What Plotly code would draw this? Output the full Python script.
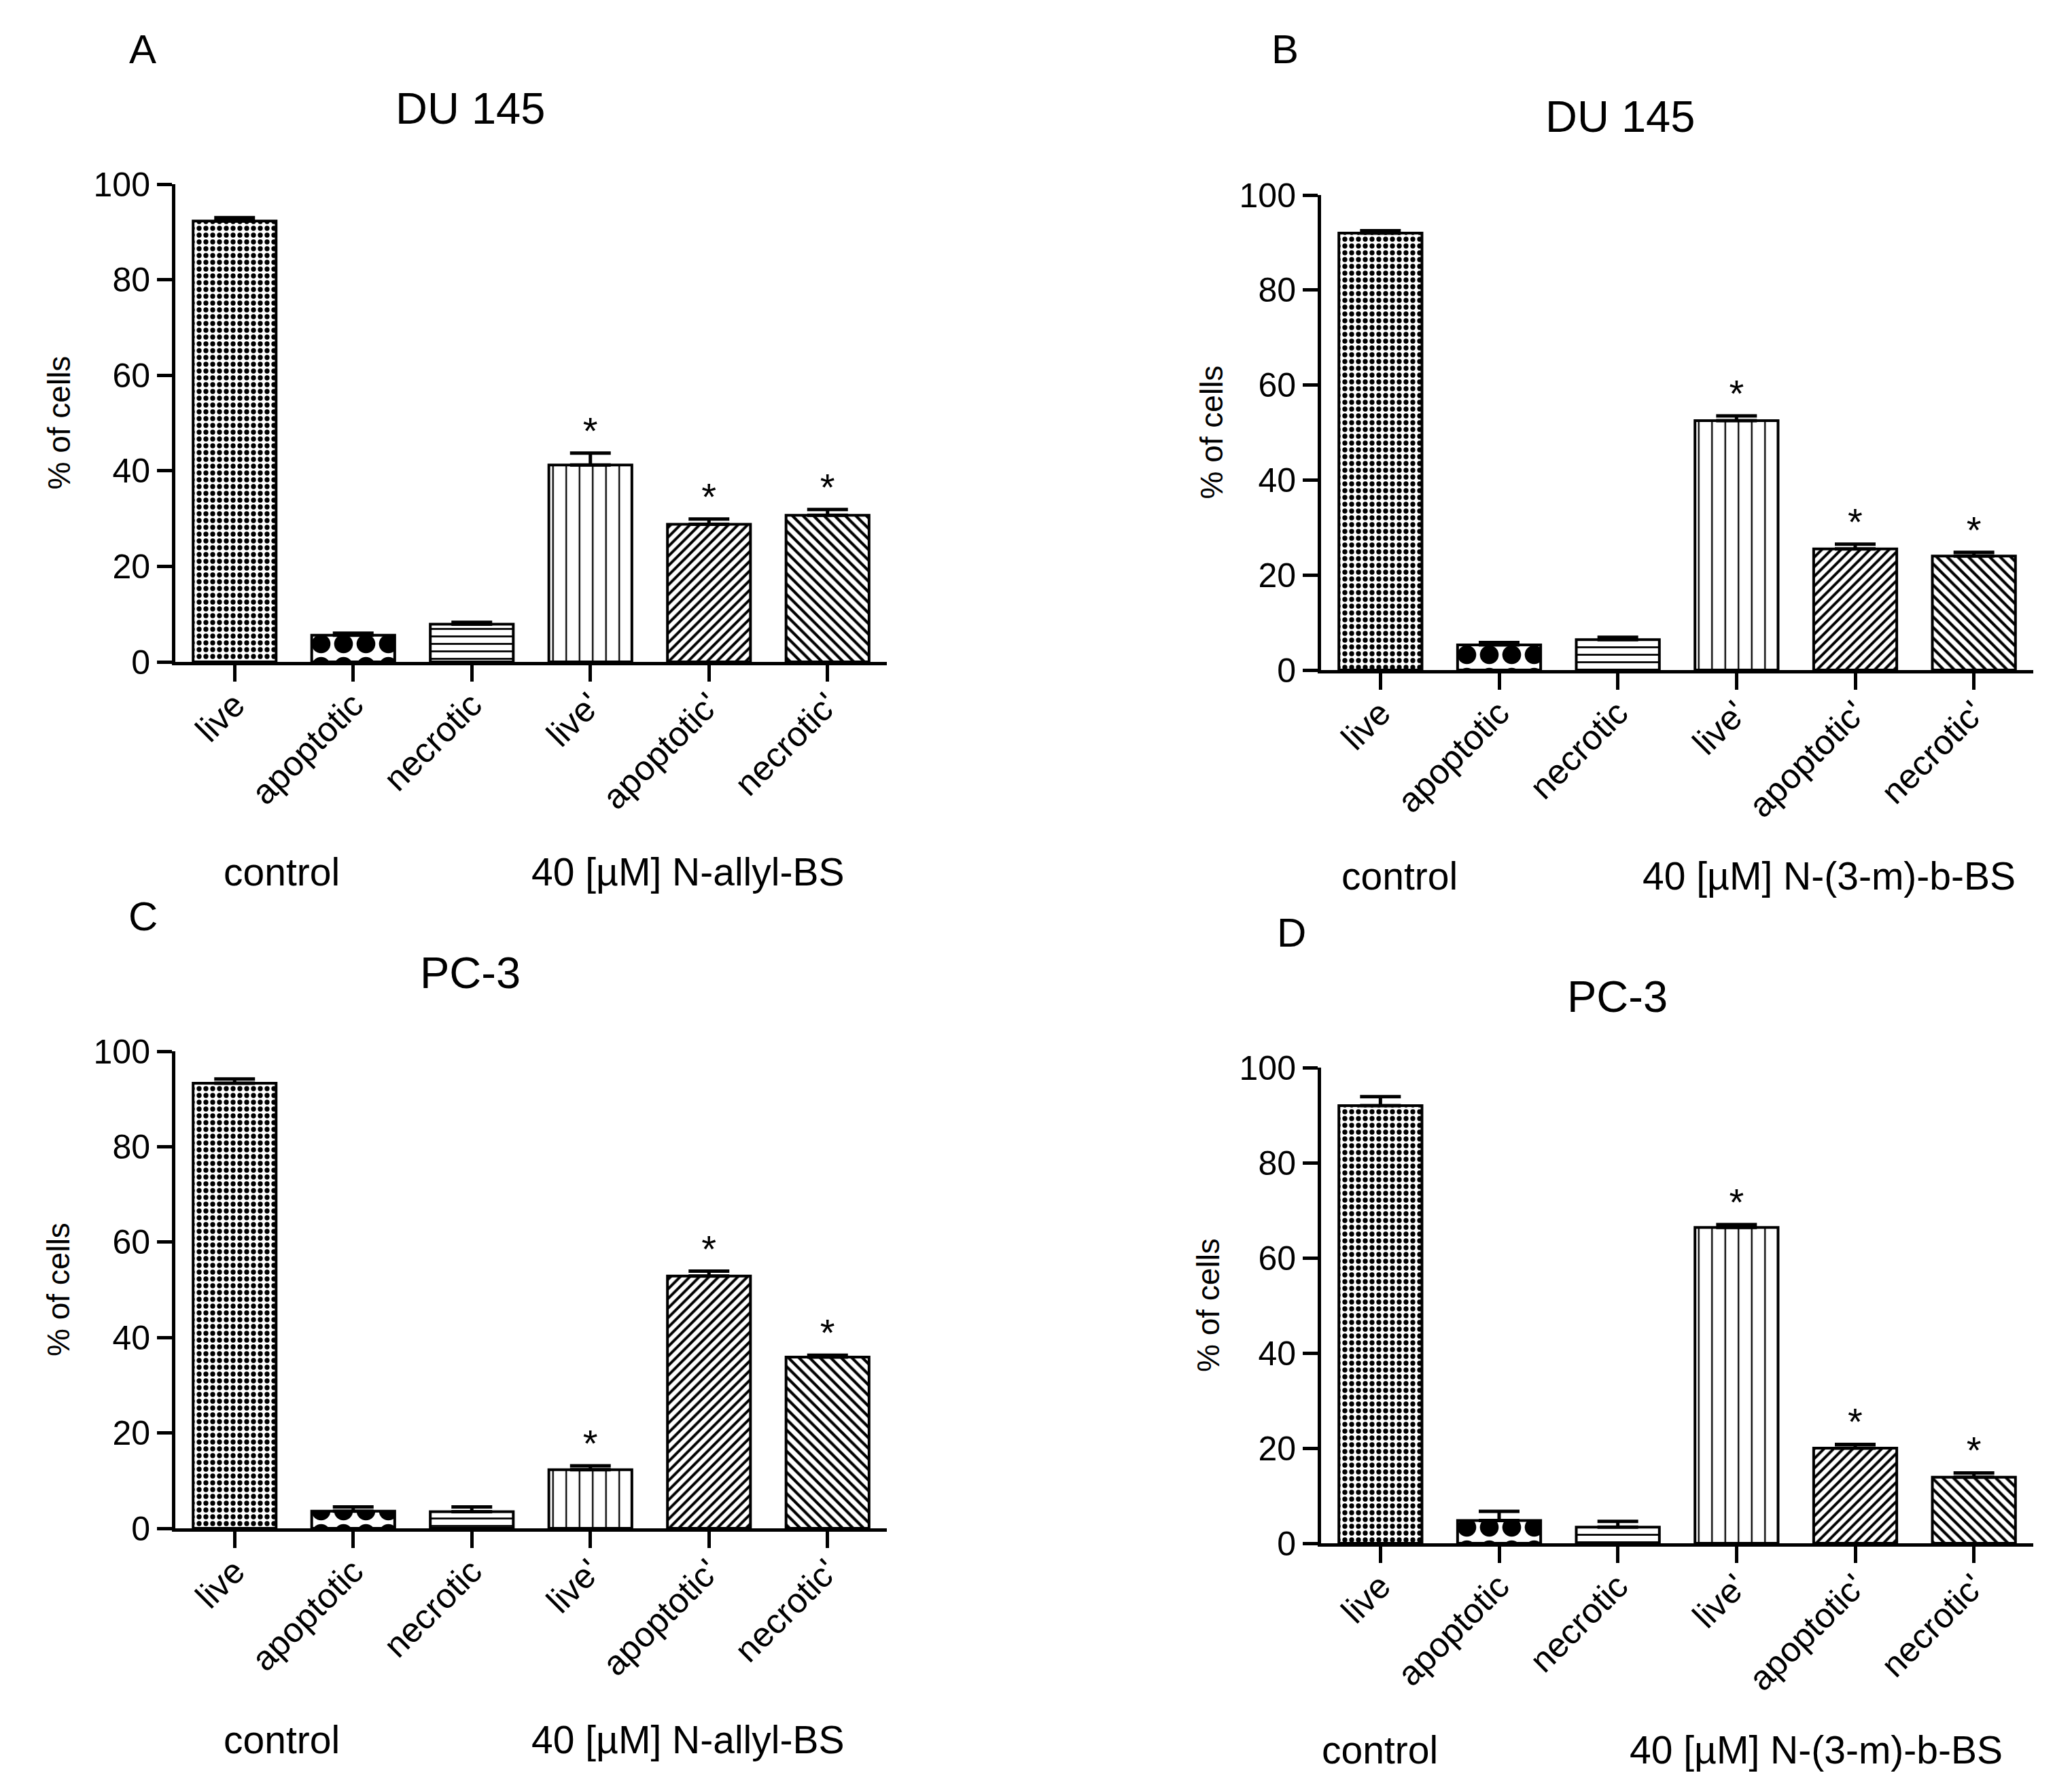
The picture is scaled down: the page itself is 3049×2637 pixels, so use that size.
import plotly.graph_objects as go

# categories shared by all four panels
categories = ["live", "apoptotic", "necrotic", "live'", "apoptotic'", "necrotic'"]
significant = [False, False, False, True, True, True]

# % of cells (mean) and upper error
a_vals = [92.3, 5.6, 7.9, 41.2, 28.8, 30.7]
a_err = [0.7, 0.4, 0.4, 2.5, 1.1, 1.2]
b_vals = [92.0, 5.3, 6.4, 52.5, 25.5, 24.0]
b_err = [0.5, 0.5, 0.5, 1.0, 1.0, 0.8]
c_vals = [93.3, 3.6, 3.5, 12.3, 52.9, 35.9]
c_err = [0.9, 0.9, 1.0, 0.8, 1.0, 0.4]
d_vals = [92.0, 4.8, 3.4, 66.4, 20.0, 13.9]
d_err = [1.9, 1.9, 1.2, 0.6, 0.8, 0.9]

panels = [
    dict(letter="A", title="DU 145", treat="40 [\u00b5M] N-allyl-BS", vals=a_vals, err=a_err),
    dict(letter="B", title="DU 145", treat="40 [\u00b5M] N-(3-m)-b-BS", vals=b_vals, err=b_err),
    dict(letter="C", title="PC-3", treat="40 [\u00b5M] N-allyl-BS", vals=c_vals, err=c_err),
    dict(letter="D", title="PC-3", treat="40 [\u00b5M] N-(3-m)-b-BS", vals=d_vals, err=d_err),
]

W, H = 3049, 2637
PAGE_PAD = 8  # default body margin of the html page
FONT = "Liberation Sans, Arial, sans-serif"

# pixel layout of each panel (page coordinates)
geom = [
    dict(xl=258, xr=1305, y0=974, y100=271, letter=(210, 73), title=(692, 159),
         ytitle=86, control=(415, 1283), treat=(1012, 1283)),
    dict(xl=1944, xr=2992, y0=986, y100=287, letter=(1891, 73), title=(2384, 172),
         ytitle=1782, control=(2059, 1289), treat=(2691, 1289)),
    dict(xl=258, xr=1305, y0=2249, y100=1547, letter=(210, 1348), title=(692, 1431),
         ytitle=86, control=(415, 2560), treat=(1012, 2560)),
    dict(xl=1944, xr=2992, y0=2271, y100=1571, letter=(1900, 1372), title=(2380, 1466),
         ytitle=1778, control=(2031, 2575), treat=(2672, 2575)),
]

# fill patterns, one per category
patterns = [
    dict(shape=".", size=10, solidity=0.42),
    dict(shape=".", size=33, solidity=0.55),
    dict(shape="-", size=11, solidity=0.25),
    dict(shape="|", size=19.5, solidity=0.12),
    dict(shape="/", size=10, solidity=0.4),
    dict(shape="\\", size=11, solidity=0.38),
]


def fx(x):
    return (x - PAGE_PAD) / W


def fy(y):
    return 1 - (y - PAGE_PAD) / H


fig = go.Figure()
annotations = []

for i, (p, g) in enumerate(zip(panels, geom)):
    n = "" if i == 0 else str(i + 1)

    fig.add_trace(go.Bar(
        x=categories, y=p["vals"],
        xaxis="x" + n, yaxis="y" + n,
        width=0.70,
        marker=dict(
            color="white",
            line=dict(color="black", width=4),
            pattern=dict(
                shape=[pt["shape"] for pt in patterns],
                size=[pt["size"] for pt in patterns],
                solidity=[pt["solidity"] for pt in patterns],
                fgcolor="black", bgcolor="white", fillmode="replace",
            ),
        ),
        error_y=dict(type="data", array=p["err"], arrayminus=[0] * 6,
                     symmetric=False, color="black", thickness=5, width=30),
        showlegend=False,
    ))

    # significance stars above the error bars
    star_x = [c for c, s in zip(categories, significant) if s]
    star_y = [v + e for v, e, s in zip(p["vals"], p["err"], significant) if s]
    fig.add_trace(go.Scatter(
        x=star_x, y=star_y, xaxis="x" + n, yaxis="y" + n,
        mode="text", text=["*"] * len(star_x), textposition="top center",
        textfont=dict(size=56, color="black", family=FONT),
        showlegend=False, hoverinfo="skip",
    ))

    fig.update_layout({
        "xaxis" + n: dict(
            domain=[fx(g["xl"]), fx(g["xr"])], anchor="y" + n, range=[-0.5, 5.5],
            showline=True, linecolor="black", linewidth=5,
            ticks="outside", ticklen=24, tickwidth=5, tickcolor="black",
            tickangle=-45, ticklabelstandoff=-16,
            tickfont=dict(size=51, family=FONT, color="black"),
            showgrid=False, zeroline=False, automargin=False,
        ),
        "yaxis" + n: dict(
            domain=[fy(g["y0"]), fy(g["y100"])], anchor="x" + n, range=[0, 100],
            tickvals=[0, 20, 40, 60, 80, 100],
            showline=True, linecolor="black", linewidth=5,
            ticks="outside", ticklen=22, tickwidth=5, tickcolor="black",
            tickfont=dict(size=50, family=FONT, color="black"),
            showgrid=False, zeroline=False, automargin=False,
        ),
    })

    def label(pos, text, size, angle=0):
        annotations.append(dict(
            x=fx(pos[0]), y=fy(pos[1]), xref="paper", yref="paper", text=text,
            showarrow=False, textangle=angle,
            font=dict(size=size, family=FONT, color="black"),
            xanchor="center", yanchor="middle",
        ))

    label(g["letter"], p["letter"], 60)
    label(g["title"], p["title"], 65)
    label((g["ytitle"], (g["y0"] + g["y100"]) / 2), "% of cells", 46, -90)
    label(g["control"], "control", 57)
    label(g["treat"], p["treat"], 57)

fig.update_layout(
    width=W, height=H,
    margin=dict(l=0, r=0, t=0, b=0, autoexpand=False),
    paper_bgcolor="white", plot_bgcolor="white",
    template="none",
    font=dict(family=FONT, color="black"),
    annotations=annotations,
)

fig.write_html("out.html")
